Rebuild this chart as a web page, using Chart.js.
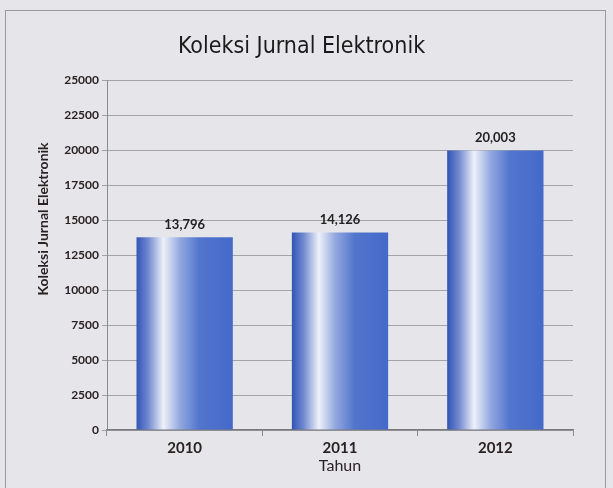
<!DOCTYPE html>
<html>
<head>
<meta charset="utf-8">
<script src="https://cdn.jsdelivr.net/npm/chart.js@4/dist/chart.umd.min.js"></script>
<style>
  html, body { margin: 0; padding: 0; background: #e6e6ea; }
  #wrap { width: 613px; height: 488px; }
</style>
</head>
<body>
<div id="wrap"><canvas id="c" width="613" height="488"></canvas></div>
<script>
const categories = ['2010', '2011', '2012'];
const values = [13796, 14126, 20003];
const yTicks = [0, 2500, 5000, 7500, 10000, 12500, 15000, 17500, 20000, 22500, 25000];
const chartTitle = 'Koleksi Jurnal Elektronik';
const yTitle = 'Koleksi Jurnal Elektronik';
const xTitle = 'Tahun';

const frame = {
  id: 'frame',
  beforeDraw(chart) {
    const ctx = chart.ctx;
    ctx.save();
    ctx.fillStyle = '#e6e6ea';
    ctx.fillRect(0, 0, chart.width, chart.height);
    ctx.strokeStyle = '#9a9a9e';
    ctx.lineWidth = 1;
    ctx.strokeRect(5.5, 10.5, 600, 490);
    ctx.restore();
  }
};

const gradientBars = {
  id: 'gradientBars',
  beforeDatasetsDraw(chart) {
    const ctx = chart.ctx;
    chart.getDatasetMeta(0).data.forEach(el => {
      const l = el.x - el.width / 2, r = el.x + el.width / 2;
      const g = ctx.createLinearGradient(l, 0, r, 0);
      g.addColorStop(0, '#3154b4');
      g.addColorStop(0.12, '#6f88d0');
      g.addColorStop(0.28, '#eef1f9');
      g.addColorStop(0.45, '#93a8e0');
      g.addColorStop(0.65, '#5275cd');
      g.addColorStop(1, '#4469c9');
      el.options = Object.assign({}, el.options, { backgroundColor: g });
    });
  }
};

const yAxisTitle = {
  id: 'yAxisTitle',
  afterDraw(chart) {
    const ctx = chart.ctx;
    ctx.save();
    ctx.translate(43, 219);
    ctx.rotate(-Math.PI / 2);
    ctx.font = 'bold 14px Lato, "Open Sans", sans-serif';
    ctx.fillStyle = '#2a2222';
    ctx.textAlign = 'center';
    ctx.textBaseline = 'middle';
    ctx.fillText(yTitle, 0, 0);
    ctx.restore();
  }
};

const dataLabels = {
  id: 'dataLabels',
  afterDatasetsDraw(chart) {
    const ctx = chart.ctx;
    ctx.save();
    ctx.font = 'bold 13px Lato, "Open Sans", sans-serif';
    ctx.fillStyle = '#222';
    ctx.textAlign = 'center';
    ctx.textBaseline = 'bottom';
    chart.getDatasetMeta(0).data.forEach((el, i) => {
      ctx.fillText(values[i].toLocaleString('en-US'), el.x, el.y - 6);
    });
    ctx.restore();
  }
};

new Chart(document.getElementById('c'), {
  type: 'bar',
  data: {
    labels: categories,
    datasets: [{
      data: values,
      backgroundColor: '#4267c8',
      borderWidth: 0,
      categoryPercentage: 1,
      barPercentage: 0.62
    }]
  },
  options: {
    responsive: false,
    animation: false,
    devicePixelRatio: 1,
    layout: { padding: { left: 30, right: 40, top: 19, bottom: 8 } },
    plugins: {
      legend: { display: false },
      tooltip: { enabled: false },
      title: {
        display: true,
        text: chartTitle,
        color: '#1a1a1a',
        font: { family: '"Liberation Sans Narrow", "DejaVu Sans Condensed", sans-serif', size: 23, weight: 'normal' },
        padding: { top: 14, bottom: 20 }
      }
    },
    scales: {
      x: {
        grid: { display: true, drawOnChartArea: false, drawTicks: true, tickLength: 6, color: '#8a8a8e', offset: true },
        border: { display: true, color: '#7a7a7e', width: 1.5 },
        ticks: { color: '#2a2222', font: { family: 'Lato, "Open Sans", sans-serif', size: 15, weight: 'bold' }, padding: 3 },
        title: { display: true, text: xTitle, color: '#2a2222', font: { family: 'Lato, "Open Sans", sans-serif', size: 16 }, padding: { top: 0, bottom: 5 } },
        afterFit(s) { s.height = 50; }
      },
      y: {
        min: 0, max: 25000,
        afterBuildTicks(s) { s.ticks = yTicks.map(v => ({ value: v })); },
        grid: { color: '#a4a4a8', lineWidth: 1, drawTicks: true, tickLength: 5 },
        border: { display: true, color: '#8a8a8e' },
        ticks: { color: '#2a2222', font: { family: 'Lato, "Open Sans", sans-serif', size: 12, weight: 'bold' }, padding: 3, callback: v => String(v) },
        title: { display: false },
        afterFit(s) { s.width = 77; }
      }
    }
  },
  plugins: [frame, gradientBars, dataLabels, yAxisTitle]
});
</script>
</body>
</html>
